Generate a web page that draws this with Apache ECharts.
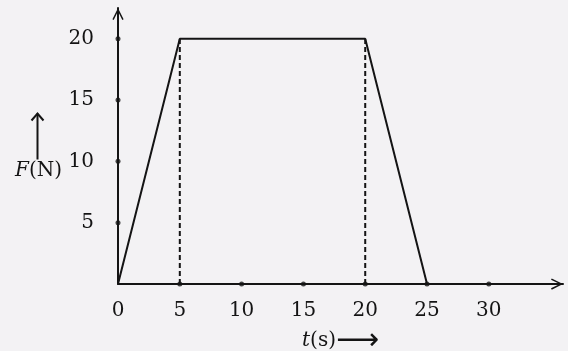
<!DOCTYPE html>
<html><head><meta charset="utf-8">
<script src="https://cdn.jsdelivr.net/npm/echarts@6/dist/echarts.min.js"></script>
<style>html,body{margin:0;padding:0;background:#f3f2f4}#c{width:568px;height:351px}</style>
</head><body><div id="c"></div>
<script>
const forceCurve = [[0, 0], [5, 20], [20, 20], [25, 0]];
const dash5 = [[5, 0], [5, 20]];
const dash20 = [[20, 0], [20, 20]];
const xTicks = [0, 5, 10, 15, 20, 25, 30];
const yTicks = [5, 10, 15, 20];

const ink = '#141414';
const font = 'DejaVu Serif';
const arrowPath = 'path://M0,12 L6,0 L12,12 L10.6,12.8 L6,3.4 L1.4,12.8 Z';

const xTickMarks = xTicks.slice(1).map(v => [v, 0]);
const yTickMarks = yTicks.map(v => [0, v]);

const chart = echarts.init(document.getElementById('c'));
chart.setOption({
  backgroundColor: '#f3f2f4',
  animation: false,
  grid: { left: 118, right: 5, top: 8, bottom: 67, outerBoundsMode: 'none', containLabel: false },
  xAxis: {
    type: 'value', min: 0, max: 36, interval: 5,
    splitLine: { show: false },
    axisLine: { lineStyle: { color: ink, width: 2 }, symbol: ['none', arrowPath], symbolSize: [13, 12], symbolOffset: [0, -6] },
    axisTick: { show: false },
    axisLabel: { customValues: xTicks, color: ink, fontFamily: font, fontSize: 20, margin: 17 },
    name: '{t|t}{p|(s)}{a|⟶}',
    nameLocation: 'middle', nameGap: 42,
    nameTextStyle: {
      rich: {
        t: { fontFamily: font, fontStyle: 'italic', fontSize: 20, color: ink },
        p: { fontFamily: font, fontSize: 20, color: ink },
        a: { fontFamily: 'DejaVu Sans', fontSize: 30, color: ink }
      }
    }
  },
  yAxis: {
    type: 'value', min: 0, max: 22.5, interval: 5,
    splitLine: { show: false },
    axisLine: { lineStyle: { color: ink, width: 2 }, symbol: ['none', arrowPath], symbolSize: [13, 12], symbolOffset: [0, -6] },
    axisTick: { show: false },
    axisLabel: { customValues: yTicks, color: ink, fontFamily: font, fontSize: 20, margin: 24, padding: [5, 0, 0, 0] },
    name: '{f|F}{n|(N)}',
    nameLocation: 'middle', nameRotate: 0, nameGap: 56,
    nameTextStyle: {
      padding: [50, 0, 0, 0],
      rich: {
        f: { fontFamily: font, fontStyle: 'italic', fontSize: 20, color: ink },
        n: { fontFamily: font, fontSize: 20, color: ink }
      }
    }
  },
  graphic: [{
    type: 'group', left: 29, top: 111,
    children: [
      { type: 'line', shape: { x1: 6, y1: 1, x2: 6, y2: 47 }, style: { stroke: ink, lineWidth: 2 } },
      { type: 'polyline', shape: { points: [[0, 8], [6, 1], [12, 8]] }, style: { stroke: ink, lineWidth: 2, fill: null } }
    ]
  }],
  series: [
    { type: 'line', data: forceCurve, symbol: 'none', lineStyle: { color: ink, width: 2 } },
    { type: 'line', data: dash5, symbol: 'none', lineStyle: { color: ink, width: 2, type: [5, 3] } },
    { type: 'line', data: dash20, symbol: 'none', lineStyle: { color: ink, width: 2, type: [5, 3] } },
    { type: 'scatter', data: xTickMarks, symbol: 'circle', symbolSize: 5, itemStyle: { color: ink }, z: 5 },
    { type: 'scatter', data: yTickMarks, symbol: 'circle', symbolSize: 5, itemStyle: { color: ink }, z: 5 }
  ]
});
</script></body></html>
